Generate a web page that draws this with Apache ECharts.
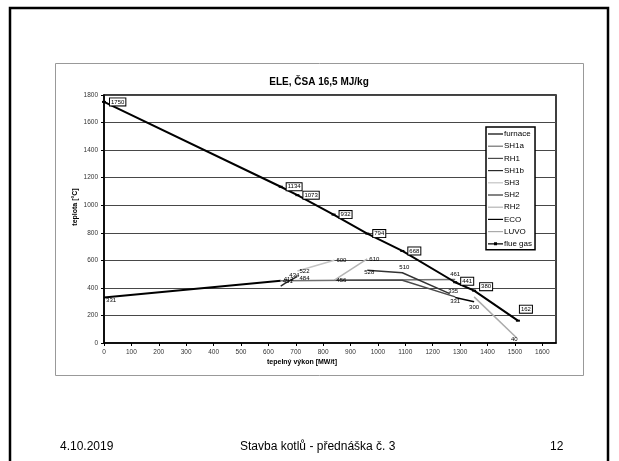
<!DOCTYPE html>
<html>
<head>
<meta charset="utf-8">
<script src="https://cdn.jsdelivr.net/npm/echarts@6/dist/echarts.min.js"></script>
<style>
  html, body { margin: 0; padding: 0; background: #fff; }
  #chart { width: 619px; height: 461px; }
</style>
</head>
<body>
<div id="chart"></div>
<script>
// Heat-transfer (T–Q) diagram of the boiler: gas side and steam/water side
const seriesNames = ['furnace', 'SH1a', 'RH1', 'SH1b', 'SH3', 'SH2', 'RH2', 'ECO', 'LUVO', 'flue gas'];

// flue gas cooling curve
const gasQ = [0, 645, 706, 838, 961, 1089, 1282, 1351, 1511];
const gasT = [1750, 1134, 1073, 932, 794, 668, 441, 380, 162];

// heating surfaces (heat output MW/t, temperature °C)
const furnaceQ = [0, 645];
const furnaceT = [331, 451];
const sh1aQ = [645, 1282];
const sh1aT = [451, 461];
const rh1Q = [841, 1089, 1282];
const rh1T = [456, 456, 335];
const sh1bQ = [645, 662, 706];
const sh1bT = [413, 434, 484];
const sh3Q = [706, 841];
const sh3T = [522, 600];
const sh2Q = [961, 1089, 1262];
const sh2T = [528, 510, 358];
const rh2Q = [841, 961];
const rh2T = [456, 610];
const ecoQ = [1282, 1351];
const ecoT = [331, 300];
const luvoQ = [1351, 1505];
const luvoT = [335, 40];

const xTicks = [0, 100, 200, 300, 400, 500, 600, 700, 800, 900, 1000, 1100, 1200, 1300, 1400, 1500, 1600];

const font = 'Liberation Sans, Arial, sans-serif';

// where each point's value label sits: [position, dx, dy] or null for no label
const labelSpots = {
  'furnace': [['right', 0, 3], ['right', 0, 0]],
  'SH1a': [null, ['top', 0, 0]],
  'RH1': [null, null, ['top', -2, 0]],
  'SH1b': [['top', 8, -2], ['top', 9, -3], ['right', 0, 2]],
  'SH3': [['right', 0, 0], ['right', 0, 0]],
  'SH2': [['bottom', 2, -3], ['top', 2, 0], null],
  'RH2': [['right', 0, 0], ['right', 0, 0]],
  'ECO': [['bottom', 0, -1], ['bottom', 0, 1]],
  'LUVO': [null, ['inside', -2, 2]],
  'flue gas': [['right', 0, 0], ['right', 0, 0], ['right', 0, 0], ['right', 0, 0], ['right', 0, 0],
               ['right', 0, 0], ['right', 0, -1], ['right', 0, -4], ['top', 8, -3]]
};

function points(name, q, t) {
  const spots = labelSpots[name];
  return q.map((v, i) => {
    const s = spots[i];
    return {
      value: [v, t[i]],
      label: s ? { show: true, position: s[0], offset: [s[1], s[2]] } : { show: false }
    };
  });
}

const plainLabel = { fontSize: 6, color: '#000', fontFamily: font, distance: 2 };
const boxLabel = {
  fontSize: 6, color: '#000', fontFamily: font, distance: 4,
  backgroundColor: '#fff', borderColor: '#000', borderWidth: 1, padding: [1, 1, 0, 1]
};

function lineSeries(name, q, t, color, width, label, extra) {
  return Object.assign({
    name: name, type: 'line', data: points(name, q, t), animation: false,
    symbol: 'circle', symbolSize: 0.1, showSymbol: true,
    lineStyle: { color: color, width: width }, itemStyle: { color: color },
    label: label, z: 3
  }, extra || {});
}

const series = [
  lineSeries('furnace', furnaceQ, furnaceT, '#000', 2, plainLabel),
  lineSeries('SH1a', sh1aQ, sh1aT, '#707070', 1.5, plainLabel),
  lineSeries('RH1', rh1Q, rh1T, '#4a4a4a', 1.5, plainLabel),
  lineSeries('SH1b', sh1bQ, sh1bT, '#2a2a2a', 1.5, plainLabel),
  lineSeries('SH3', sh3Q, sh3T, '#c4c4c4', 1.5, plainLabel),
  lineSeries('SH2', sh2Q, sh2T, '#333', 1.5, plainLabel),
  lineSeries('RH2', rh2Q, rh2T, '#b4b4b4', 1.5, plainLabel),
  lineSeries('ECO', ecoQ, ecoT, '#000', 1.5, plainLabel),
  lineSeries('LUVO', luvoQ, luvoT, '#ababab', 1.5, plainLabel),
  lineSeries('flue gas', gasQ, gasT, '#000', 2, boxLabel, {
    symbol: 'rect', symbolSize: [4, 2]
  })
];

// legend icons: plain strokes, the flue gas one carries its marker
const lineIcon = 'path://M0,3.4H15V4.6H0Z';
const markIcon = 'path://M0,3.4H15V4.6H0Z M6,2.5H9V5.5H6Z';

const chart = echarts.init(document.getElementById('chart'), null, { renderer: 'canvas' });
chart.setOption({
  backgroundColor: '#fff',
  animation: false,
  title: {
    text: 'ELE, ČSA 16,5 MJ/kg', left: 314, top: 72, textAlign: 'center',
    textStyle: { fontSize: 10, fontWeight: 'bold', color: '#000', fontFamily: font }
  },
  legend: {
    orient: 'vertical', left: 486, top: 127,
    padding: [3, 3, 2, 2], itemGap: 4.2, itemWidth: 15, itemHeight: 8,
    backgroundColor: '#fff', borderColor: '#000', borderWidth: 1.5,
    textStyle: { fontSize: 8, color: '#000', fontFamily: font, padding: [0, 0, 0, -4] },
    data: seriesNames.map(n => ({ name: n, icon: n === 'flue gas' ? markIcon : lineIcon }))
  },
  grid: {
    left: 104, top: 95, width: 452, height: 248, show: true,
    borderColor: '#000', borderWidth: 1.5, backgroundColor: 'transparent'
  },
  xAxis: {
    type: 'value', min: 0, max: 1650, interval: 100,
    axisLine: { lineStyle: { color: '#000', width: 1.5 } },
    axisTick: { show: true, length: 3, lineStyle: { color: '#000' } },
    axisLabel: {
      fontSize: 6.5, color: '#333', fontFamily: font, margin: 6, showMaxLabel: false,
      formatter: v => (xTicks.indexOf(v) >= 0 ? String(v) : '')
    },
    splitLine: { show: false }
  },
  yAxis: {
    type: 'value', min: 0, max: 1800, interval: 200,
    axisLine: { show: true, lineStyle: { color: '#000', width: 1.5 } },
    axisTick: { show: true, length: 3, lineStyle: { color: '#000' } },
    axisLabel: { fontSize: 6.5, color: '#333', fontFamily: font, margin: 6, formatter: v => String(v) },
    splitLine: { show: true, lineStyle: { color: '#484848', width: 1.2 } }
  },
  graphic: [
    { type: 'rect', shape: { x: 10, y: 8, width: 598, height: 470 },
      style: { fill: 'none', stroke: '#000', lineWidth: 2.5 }, silent: true, z: -1 },
    { type: 'rect', shape: { x: 55.5, y: 63.5, width: 528, height: 312 },
      style: { fill: 'none', stroke: '#999', lineWidth: 1 }, silent: true, z: -1 },
    { type: 'text', x: 302, y: 362,
      style: { text: 'tepelný výkon [MW/t]', font: 'bold 7px ' + font, fill: '#000',
        textAlign: 'center', textVerticalAlign: 'middle' } },
    { type: 'text', x: 75, y: 207, rotation: Math.PI / 2,
      style: { text: 'teplota [°C]', font: 'bold 7px ' + font, fill: '#000',
        textAlign: 'center', textVerticalAlign: 'middle' } },
    { type: 'text', left: 60, top: 441,
      style: { text: '4.10.2019', font: '12px ' + font, fill: '#000' } },
    { type: 'text', left: 240, top: 441,
      style: { text: 'Stavba kotlů - přednáška č. 3', font: '12px ' + font, fill: '#000' } },
    { type: 'text', left: 550, top: 441,
      style: { text: '12', font: '12px ' + font, fill: '#000' } }
  ],
  series: series
});
</script>
</body>
</html>
